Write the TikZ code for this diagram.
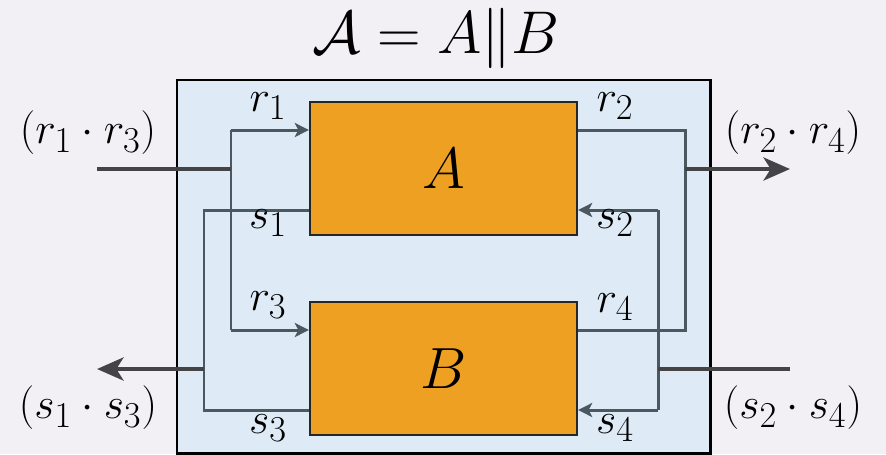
\documentclass[tikz,border=0pt]{standalone}
\usepackage{graphicx}
\usetikzlibrary{arrows.meta}
\definecolor{pagebg}{RGB}{242,240,245}
\definecolor{sysfill}{RGB}{222,234,246}
\definecolor{compfill}{RGB}{238,160,35}
\definecolor{wirecol}{RGB}{74,88,96}
\definecolor{thickcol}{RGB}{68,68,70}
\newcommand{\bigmath}[1]{\scalebox{1.33}{\fontsize{24.88}{30}\selectfont$#1$}}
\newcommand{\titlemath}[1]{\scalebox{1.38}{\fontsize{24.88}{30}\selectfont$#1$}}
\tikzset{
  sysbox/.style={draw=black, line width=1.7pt, fill=sysfill},
  compbox/.style={draw=black!85, line width=1.3pt, fill=compfill, minimum width=267*0.02cm, minimum height=133*0.02cm, inner sep=0pt},
  wire/.style={draw=wirecol, line width=1.7pt},
  wirearr/.style={wire, -{Stealth[length=8pt,width=8pt,inset=2pt]}},
  thick wire/.style={draw=thickcol, line width=2.8pt},
  thickarr/.style={thick wire, -{Stealth[length=15pt,width=13pt,inset=4pt]}},
  lab/.style={font=\fontsize{24.88}{30}\selectfont, inner sep=0pt},
}
\begin{document}
\begin{tikzpicture}[x=0.02cm,y=-0.02cm]
\useasboundingbox (0,0) rectangle (886,454);
\fill[pagebg] (0,0) rectangle (886,454);
\node[inner sep=0pt] (title) at (436,38) {\titlemath{\mathcal{A} = A\|B}};
\draw[sysbox] (177,80) rectangle (710,453);
\node[compbox] (A) at (443.5,168.5) {\bigmath{A}};
\node[compbox] (B) at (443.5,368.5) {\bigmath{B}};
% junction coordinates
\coordinate (jin) at (231,169);
\coordinate (jr1) at (231,130);
\coordinate (jr3) at (231,330);
\coordinate (js1) at (204,210);
\coordinate (js3) at (204,410);
\coordinate (jout) at (204,369);
\coordinate (jr2) at (685,130);
\coordinate (jr4) at (685,330);
\coordinate (jrout) at (685,169);
\coordinate (js2) at (658,210);
\coordinate (js4) at (658,410);
\coordinate (jsin) at (658,369);
\coordinate (inL) at (97,169);
\coordinate (outL) at (97,369);
\coordinate (outR) at (790,169);
\coordinate (inR) at (790,369);
% thin wires
\draw[wire] (jr1) -- (jr3);
\draw[wirearr] (jr1) -- (jr1 -| A.west);
\draw[wirearr] (jr3) -- (jr3 -| B.west);
\draw[wire] (js1 -| A.west) -- (js1) -- (js3) -- (js3 -| B.west);
\draw[wire] (jr2 -| A.east) -- (jr2) -- (jr4) -- (jr4 -| B.east);
\draw[wire] (js2) -- (js4);
\draw[wirearr] (js2) -- (js2 -| A.east);
\draw[wirearr] (js4) -- (js4 -| B.east);
% thick wires
\draw[thick wire] (inL) -- (jin);
\draw[thickarr] (jout) -- (outL);
\draw[thickarr] (jrout) -- (outR);
\draw[thick wire] (inR) -- (jsin);
% labels
\node[lab] (lr1) at (268,106) {$r_1$};
\node[lab] (ls1) at (268,223) {$s_1$};
\node[lab] (lr3) at (268,305) {$r_3$};
\node[lab] (ls3) at (268,428) {$s_3$};
\node[lab] (lr2) at (615,106) {$r_2$};
\node[lab] (ls2) at (615,223) {$s_2$};
\node[lab] (lr4) at (615,307) {$r_4$};
\node[lab] (ls4) at (615,428) {$s_4$};
\node[lab] (lin) at (88,133) {$(r_1\cdot r_3)$};
\node[lab] (lout) at (88,408) {$(s_1\cdot s_3)$};
\node[lab] (rout) at (793,133) {$(r_2\cdot r_4)$};
\node[lab] (rin) at (793,408) {$(s_2\cdot s_4)$};
\end{tikzpicture}
\end{document}
